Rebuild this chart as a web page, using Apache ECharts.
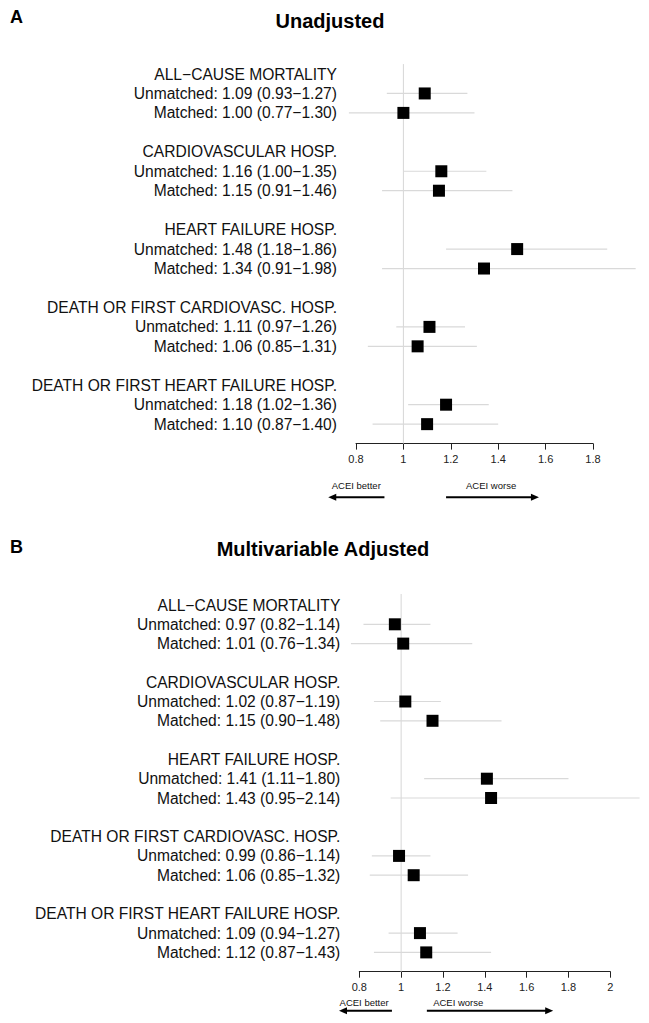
<!DOCTYPE html>
<html><head><meta charset="utf-8">
<script src="https://cdn.jsdelivr.net/npm/echarts@6/dist/echarts.min.js"></script>
<style>html,body{margin:0;padding:0;background:#fff}#c{width:649px;height:1023px}</style>
</head><body><div id="c"></div>
<script>
// ---- data ----
const outcomes = ['ALL\u2212CAUSE MORTALITY', 'CARDIOVASCULAR HOSP.', 'HEART FAILURE HOSP.',
  'DEATH OR FIRST CARDIOVASC. HOSP.', 'DEATH OR FIRST HEART FAILURE HOSP.'];
const unadjUnmatchedEst = [1.09, 1.16, 1.48, 1.11, 1.18];
const unadjUnmatchedLo  = [0.93, 1.00, 1.18, 0.97, 1.02];
const unadjUnmatchedHi  = [1.27, 1.35, 1.86, 1.26, 1.36];
const unadjMatchedEst   = [1.00, 1.15, 1.34, 1.06, 1.10];
const unadjMatchedLo    = [0.77, 0.91, 0.91, 0.85, 0.87];
const unadjMatchedHi    = [1.30, 1.46, 1.98, 1.31, 1.40];
const adjUnmatchedEst   = [0.97, 1.02, 1.41, 0.99, 1.09];
const adjUnmatchedLo    = [0.82, 0.87, 1.11, 0.86, 0.94];
const adjUnmatchedHi    = [1.14, 1.19, 1.80, 1.14, 1.27];
const adjMatchedEst     = [1.01, 1.15, 1.43, 1.06, 1.12];
const adjMatchedLo      = [0.76, 0.90, 0.95, 0.85, 0.87];
const adjMatchedHi      = [1.34, 1.48, 2.14, 1.32, 1.43];
const unadjTicks = [0.8, 1, 1.2, 1.4, 1.6, 1.8];
const adjTicks   = [0.8, 1, 1.2, 1.4, 1.6, 1.8, 2];
const panelLetters = ['A', 'B'];
const panelTitles = ['Unadjusted', 'Multivariable Adjusted'];
const directionLabels = ['ACEI better', 'ACEI worse'];

// ---- build ----
const FONT = "'Liberation Sans', Arial, Helvetica, sans-serif";
const fmt = v => v.toFixed(2);
function buildPanel(uE, uL, uH, mE, mL, mH) {
  const labels = [], boxes = [], cis = [];
  outcomes.forEach((o, k) => {
    const r = 4 * k;
    labels[r] = o;
    labels[r + 1] = 'Unmatched: ' + fmt(uE[k]) + ' (' + fmt(uL[k]) + '\u2212' + fmt(uH[k]) + ')';
    labels[r + 2] = 'Matched: ' + fmt(mE[k]) + ' (' + fmt(mL[k]) + '\u2212' + fmt(mH[k]) + ')';
    boxes.push([uE[k], r + 1], [mE[k], r + 2]);
    cis.push([uL[k], uH[k], r + 1], [mL[k], mH[k], r + 2]);
  });
  return { labels, boxes, cis };
}
const P = [
  buildPanel(unadjUnmatchedEst, unadjUnmatchedLo, unadjUnmatchedHi, unadjMatchedEst, unadjMatchedLo, unadjMatchedHi),
  buildPanel(adjUnmatchedEst, adjUnmatchedLo, adjUnmatchedHi, adjMatchedEst, adjMatchedLo, adjMatchedHi)
];
const ticks = [unadjTicks, adjTicks];

// layout (pixels)
const grids = [
  { left: 356, width: 237, top: 74, height: 369.6 },
  { left: 359.3, width: 251, top: 605, height: 366.7 }
];
const labelMargin = [19, 19];
// annotation placement in data units
const annot = [
  { refTop: -0.51, textY: 21.13, arrowY: 21.76, betterX: 0.801, worseX: 1.37, la: [0.92, 0.683], ra: [1.18, 1.572] },
  { refTop: -0.57, textY: 20.57, arrowY: 21.02, betterX: 0.823, worseX: 1.273, la: [0.956, 0.703], ra: [1.123, 1.727] }
];

const option = {
  animation: false,
  backgroundColor: '#fff',
  textStyle: { fontFamily: FONT },
  grid: grids.map(g => Object.assign({ containLabel: false }, g)),
  xAxis: ticks.map((t, i) => ({
    type: 'value', gridIndex: i, min: t[0], max: t[t.length - 1], interval: 0.2,
    axisLine: { show: true, onZero: false, lineStyle: { color: '#222', width: 1 } },
    axisTick: { show: true, length: 6, lineStyle: { color: '#222' } },
    splitLine: { show: false },
    axisLabel: {
      color: '#222', fontSize: 11, margin: 10, fontFamily: FONT,
      formatter: v => { let best = t[0]; t.forEach(x => { if (Math.abs(x - v) < Math.abs(best - v)) best = x; }); return String(best); }
    }
  })),
  yAxis: P.map((p, i) => ({
    type: 'value', gridIndex: i, inverse: true, min: 0, max: 19, interval: 1,
    axisLine: { show: false }, axisTick: { show: false }, splitLine: { show: false },
    axisLabel: {
      color: '#111', fontSize: 15.6, margin: labelMargin[i], fontFamily: FONT,
      formatter: v => p.labels[Math.round(v)] || ''
    }
  })),
  graphic: [
    { type: 'text', left: 10, top: 8, style: { text: panelLetters[0], font: 'bold 18px ' + FONT, fill: '#000' } },
    { type: 'text', left: 10, top: 538, style: { text: panelLetters[1], font: 'bold 18px ' + FONT, fill: '#000' } },
    { type: 'text', x: 330, y: 21, style: { text: panelTitles[0], font: 'bold 20px ' + FONT, fill: '#000', align: 'center', verticalAlign: 'middle' } },
    { type: 'text', x: 323, y: 549, style: { text: panelTitles[1], font: 'bold 20px ' + FONT, fill: '#000', align: 'center', verticalAlign: 'middle' } }
  ],
  series: []
};

P.forEach((p, i) => {
  const a = annot[i];
  // reference line at 1
  option.series.push({
    type: 'custom', xAxisIndex: i, yAxisIndex: i, clip: false, silent: true, z: 1,
    data: [[1, a.refTop, 19]], encode: { x: 0, y: [1, 2] },
    renderItem: (params, api) => {
      const p0 = api.coord([api.value(0), api.value(1)]);
      const p1 = api.coord([api.value(0), api.value(2)]);
      return { type: 'line', shape: { x1: p0[0], y1: p0[1], x2: p1[0], y2: p1[1] }, style: { stroke: '#d6d6d6', lineWidth: 1 } };
    }
  });
  // confidence intervals
  option.series.push({
    type: 'custom', xAxisIndex: i, yAxisIndex: i, clip: false, silent: true, z: 2,
    data: p.cis, encode: { x: [0, 1], y: 2 },
    renderItem: (params, api) => {
      const p0 = api.coord([api.value(0), api.value(2)]);
      const p1 = api.coord([api.value(1), api.value(2)]);
      return { type: 'line', shape: { x1: p0[0], y1: p0[1], x2: p1[0], y2: p1[1] }, style: { stroke: '#d9d9d9', lineWidth: 1.2 } };
    }
  });
  // point estimates
  option.series.push({
    type: 'scatter', xAxisIndex: i, yAxisIndex: i, clip: false, silent: true, z: 3,
    symbol: 'rect', symbolSize: 12, itemStyle: { color: '#000', opacity: 1 },
    data: p.boxes
  });
  // direction arrows + labels
  option.series.push({
    type: 'custom', xAxisIndex: i, yAxisIndex: i, clip: false, silent: true, z: 3,
    data: [[0]], encode: { x: 0 },
    renderItem: (params, api) => {
      const children = [];
      const tb = api.coord([a.betterX, a.textY]);
      const tw = api.coord([a.worseX, a.textY]);
      [[tb, directionLabels[0]], [tw, directionLabels[1]]].forEach(([pt, s]) => children.push({
        type: 'text', x: pt[0], y: pt[1],
        style: { text: s, font: '9.5px ' + FONT, fill: '#111', align: 'center', verticalAlign: 'middle' }
      }));
      [a.la, a.ra].forEach(seg => {
        const s0 = api.coord([seg[0], a.arrowY]);
        const s1 = api.coord([seg[1], a.arrowY]);
        const dir = Math.sign(s1[0] - s0[0]);
        const hl = 8, hw = 3.5;
        children.push({ type: 'line', shape: { x1: s0[0], y1: s0[1], x2: s1[0] - dir * hl * 0.6, y2: s1[1] }, style: { stroke: '#000', lineWidth: 2 } });
        children.push({ type: 'polygon', shape: { points: [[s1[0], s1[1]], [s1[0] - dir * hl, s1[1] - hw], [s1[0] - dir * hl, s1[1] + hw]] }, style: { fill: '#000' } });
      });
      return { type: 'group', children };
    }
  });
});

const chart = echarts.init(document.getElementById('c'), null, { renderer: 'svg' });
chart.setOption(option);
</script>
</body></html>
